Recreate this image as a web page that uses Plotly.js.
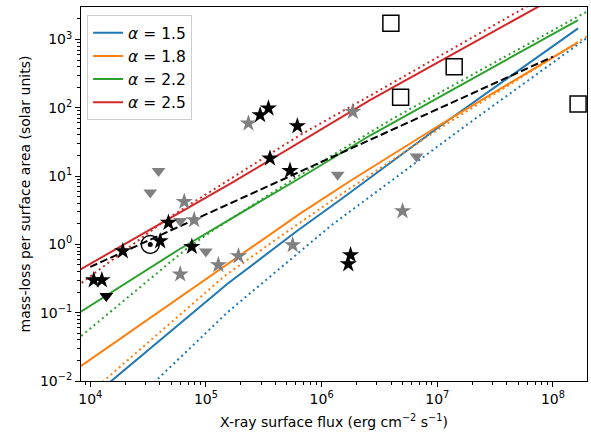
<!DOCTYPE html>
<html>
<head>
<meta charset="utf-8">
<script src="https://cdn.plot.ly/plotly-3.0.1.min.js"></script>
<style>html,body{margin:0;padding:0;background:#fff}</style>
</head>
<body>
<div id="chart" style="width:591px;height:432px"></div>
<script>
// ---- tick labels ----
const xTickVals = [1e4, 1e5, 1e6, 1e7, 1e8];
const xTickText = ['10<sup>4</sup>', '10<sup>5</sup>', '10<sup>6</sup>', '10<sup>7</sup>', '10<sup>8</sup>'];
const yTickVals = [1e-2, 1e-1, 1, 1e1, 1e2, 1e3];
const yTickText = ['10<sup>−2</sup>', '10<sup>−1</sup>', '10<sup>0</sup>', '10<sup>1</sup>', '10<sup>2</sup>', '10<sup>3</sup>'];

// ---- model curves ----
const alphaLabels = ['<i>α</i> = 1.5', '<i>α</i> = 1.8', '<i>α</i> = 2.2', '<i>α</i> = 2.5'];

const solid15X = [1e4, 1.555e5, 6.291e5, 1.442e6, 1.053e7, 1.648e8];
const solid15Y = [0.005534, 0.2695, 1.625, 4.468, 53.7, 1459];
const solid18X = [7079, 1.456e5, 6.511e5, 1.819e6, 1.053e7, 1.648e8];
const solid18Y = [0.01371, 0.4786, 2.818, 8.769, 56.0, 909.9];
const solid22X = [7079, 5.754e4, 6.511e5, 2.618e6, 1.648e8];
const solid22Y = [0.0871, 0.828, 9.38, 39.3, 1930];
const solid25X = [7079, 1.728e5, 2.618e6, 7.2e7, 1.648e8];
const solid25Y = [0.372, 8.225, 129.4, 2921, 6362];

const dot15X = [2.818e4, 1.555e5, 1.223e6, 1.791e7, 2.239e8];
const dot15Y = [0.0065, 0.1034, 1.923, 56.0, 1236];
const dot18X = [1e4, 1.456e5, 5.157e5, 1.223e6, 1.163e7, 2.239e8];
const dot18Y = [0.00675, 0.3467, 1.585, 4.365, 55.98, 1274];
const dot22X = [7079, 6.574e4, 1.161e5, 6.511e5, 4.162e6, 2.239e8];
const dot22Y = [0.0361, 0.828, 1.625, 10.38, 70.2, 2891];
const dot25X = [7079, 4.596e4, 6.511e5, 2.618e6, 5.902e7, 2.239e8];
const dot25Y = [0.2198, 2.354, 39.97, 150.3, 3020, 10715];

const fitX = [1e4, 1e8];
const fitY = [0.468, 560];

// ---- observations ----
const blackStarX = [1.07e4, 1.26e4, 1.91e4, 4.02e4, 4.74e4, 7.55e4, 2.94e5, 3.47e5, 3.58e5, 5.33e5, 6.17e5, 1.78e6, 1.70e6];
const blackStarY = [0.30, 0.30, 0.80, 1.12, 2.08, 0.925, 78.5, 98.4, 18.2, 12.0, 54.1, 0.70, 0.516];
const grayStarX = [2.33e5, 1.86e6, 6.49e4, 7.91e4, 5.99e4, 1.28e5, 1.91e5, 5.62e5, 5.01e6];
const grayStarY = [59.3, 87.7, 4.22, 2.28, 0.366, 0.50, 0.676, 0.98, 3.08];
const grayTriX = [3.89e4, 3.30e4, 5.99e4, 9.98e4, 1.377e6, 6.62e6];
const grayTriY = [11.9, 5.75, 2.2, 0.79, 10.5, 19.3];
const blackTriX = [1.375e4];
const blackTriY = [0.175];
const sunX = [3.30e4];
const sunY = [1.0];
const squareX = [3.97e6, 4.82e6, 1.40e7, 1.65e8];
const squareY = [1726, 142.5, 400, 113.6];

// ---- minor ticks (2..9 per decade) ----
function minorTicks(d0, d1) {
  const out = [];
  for (let d = d0; d <= d1; d++) for (let m = 2; m <= 9; m++) out.push(m * Math.pow(10, d));
  return out;
}

const C = {b: '#1f77b4', o: '#ff7f0e', g: '#2ca02c', r: '#d62728'};
const DOT = '2px,3.4px';
function line(x, y, color, dash, name, show) {
  return {x: x, y: y, type: 'scatter', mode: 'lines', name: name || '', showlegend: !!show,
          line: {color: color, width: 2, dash: dash || 'solid'}, hoverinfo: 'skip'};
}

const traces = [
  line(solid15X, solid15Y, C.b, 'solid', alphaLabels[0], true),
  line(solid18X, solid18Y, C.o, 'solid', alphaLabels[1], true),
  line(solid22X, solid22Y, C.g, 'solid', alphaLabels[2], true),
  line(solid25X, solid25Y, C.r, 'solid', alphaLabels[3], true),
  line(dot15X, dot15Y, C.b, DOT),
  line(dot18X, dot18Y, C.o, DOT),
  line(dot22X, dot22Y, C.g, DOT),
  line(dot25X, dot25Y, C.r, DOT),
  line(fitX, fitY, 'black', '7.7px,3.3px'),
  {x: grayTriX, y: grayTriY, type: 'scatter', mode: 'markers', showlegend: false,
   marker: {symbol: 'triangle-down', size: 12, color: '#808080'}},
  {x: blackTriX, y: blackTriY, type: 'scatter', mode: 'markers', showlegend: false,
   marker: {symbol: 'triangle-down', size: 12, color: 'black'}},
  {x: grayStarX, y: grayStarY, type: 'scatter', mode: 'markers', showlegend: false,
   marker: {symbol: 'star', size: 13, color: '#808080'}},
  {x: blackStarX, y: blackStarY, type: 'scatter', mode: 'markers', showlegend: false,
   marker: {symbol: 'star', size: 13, color: 'black'}},
  {x: squareX, y: squareY, type: 'scatter', mode: 'markers', showlegend: false,
   marker: {symbol: 'square-open', size: 16, color: 'black', line: {width: 1.5, color: 'black'}}},
  {x: sunX, y: sunY, type: 'scatter', mode: 'markers', showlegend: false,
   marker: {symbol: 'circle-open', size: 18, color: 'black', line: {width: 1.5, color: 'black'}}},
  {x: sunX, y: sunY, type: 'scatter', mode: 'markers', showlegend: false,
   marker: {symbol: 'circle', size: 5, color: 'black'}}
];

const axisCommon = {
  type: 'log', ticks: 'outside', ticklen: 5, tickwidth: 1, tickcolor: 'black',
  showline: true, linecolor: 'black', linewidth: 1, mirror: true,
  showgrid: false, zeroline: false, automargin: false,
  tickfont: {family: 'DejaVu Sans', size: 14, color: 'black'}
};

const layout = {
  width: 591, height: 432,
  margin: {l: 81, r: 4, t: 7, b: 51},
  paper_bgcolor: 'white', plot_bgcolor: 'white',
  font: {family: 'DejaVu Sans', size: 14, color: 'black'},
  showlegend: true,
  legend: {x: 0.012, y: 0.978, xanchor: 'left', yanchor: 'top',
           bgcolor: 'rgba(255,255,255,0.8)', bordercolor: '#cccccc', borderwidth: 1,
           font: {family: 'DejaVu Sans', size: 15.5, color: 'black'}},
  xaxis: Object.assign({}, axisCommon, {
    range: [3.9197, 8.2945], tickmode: 'array', tickvals: xTickVals, ticktext: xTickText,
    minor: {tickmode: 'array', tickvals: minorTicks(3, 8), ticks: 'outside', ticklen: 3, tickwidth: 1, tickcolor: 'black', showgrid: false},
    title: {text: 'X-ray surface flux (erg cm<sup>−2</sup> s<sup>−1</sup>)', font: {family: 'DejaVu Sans', size: 14, color: 'black'}, standoff: 11}
  }),
  yaxis: Object.assign({}, axisCommon, {
    range: [-2, 3.476], tickmode: 'array', tickvals: yTickVals, ticktext: yTickText,
    minor: {tickmode: 'array', tickvals: minorTicks(-2, 3), ticks: 'outside', ticklen: 3, tickwidth: 1, tickcolor: 'black', showgrid: false},
    title: {text: 'mass-loss per surface area (solar units)', font: {family: 'DejaVu Sans', size: 14, color: 'black'}, standoff: 6}
  })
};

Plotly.newPlot('chart', traces, layout, {displayModeBar: false, staticPlot: true});
</script>
</body>
</html>
